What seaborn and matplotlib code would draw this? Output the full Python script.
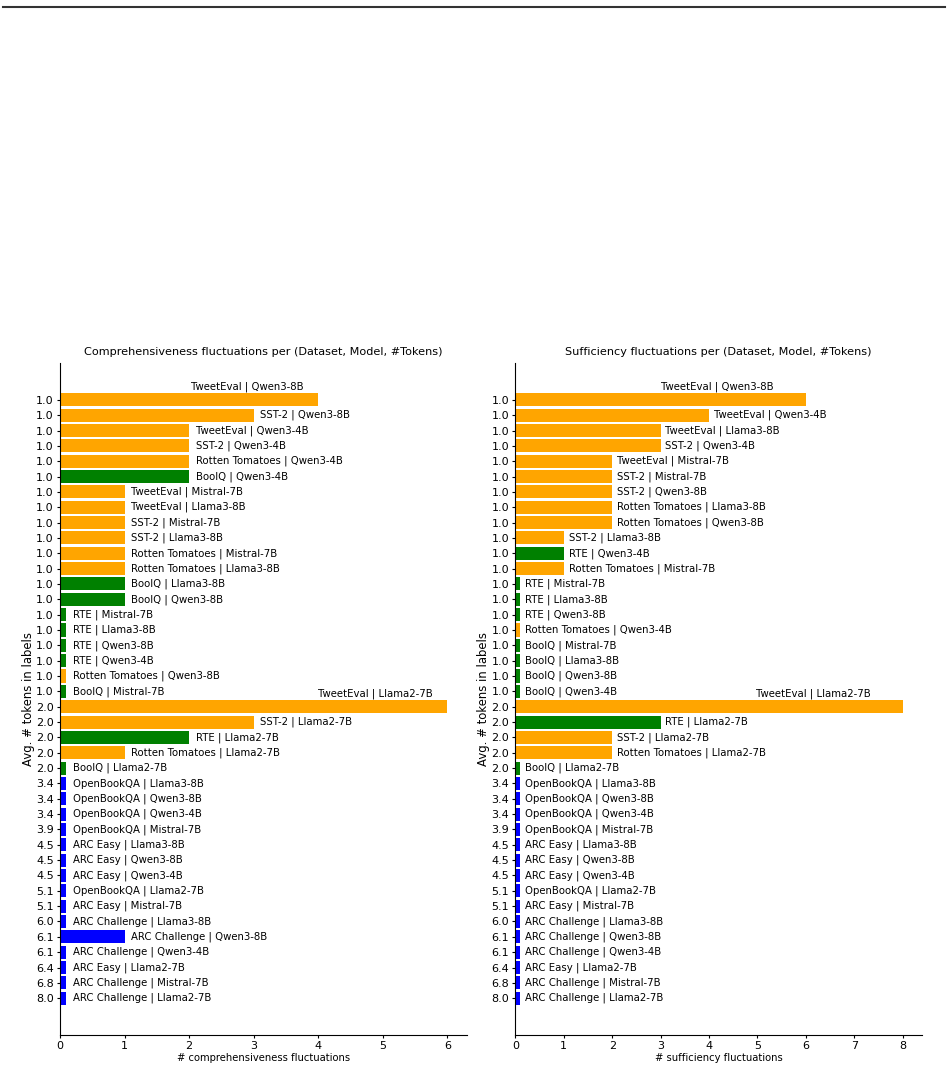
import numpy as np
import pandas as pd
import matplotlib.pyplot as plt
import seaborn as sns
from matplotlib.lines import Line2D

#%% data
comp_labels = [
    "TweetEval | Qwen3-8B", "SST-2 | Qwen3-8B", "TweetEval | Qwen3-4B", "SST-2 | Qwen3-4B",
    "Rotten Tomatoes | Qwen3-4B", "BoolQ | Qwen3-4B", "TweetEval | Mistral-7B", "TweetEval | Llama3-8B",
    "SST-2 | Mistral-7B", "SST-2 | Llama3-8B", "Rotten Tomatoes | Mistral-7B", "Rotten Tomatoes | Llama3-8B",
    "BoolQ | Llama3-8B", "BoolQ | Qwen3-8B", "RTE | Mistral-7B", "RTE | Llama3-8B",
    "RTE | Qwen3-8B", "RTE | Qwen3-4B", "Rotten Tomatoes | Qwen3-8B", "BoolQ | Mistral-7B",
    "TweetEval | Llama2-7B", "SST-2 | Llama2-7B", "RTE | Llama2-7B", "Rotten Tomatoes | Llama2-7B",
    "BoolQ | Llama2-7B",
]
comp_values = [4, 3, 2, 2, 2, 2, 1, 1, 1, 1, 1, 1, 1, 1, 0, 0, 0, 0, 0, 0,
               6, 3, 2, 1, 0]

suff_labels = [
    "TweetEval | Qwen3-8B", "TweetEval | Qwen3-4B", "TweetEval | Llama3-8B", "SST-2 | Qwen3-4B",
    "TweetEval | Mistral-7B", "SST-2 | Mistral-7B", "SST-2 | Qwen3-8B", "Rotten Tomatoes | Llama3-8B",
    "Rotten Tomatoes | Qwen3-8B", "SST-2 | Llama3-8B", "RTE | Qwen3-4B", "Rotten Tomatoes | Mistral-7B",
    "RTE | Mistral-7B", "RTE | Llama3-8B", "RTE | Qwen3-8B", "Rotten Tomatoes | Qwen3-4B",
    "BoolQ | Mistral-7B", "BoolQ | Llama3-8B", "BoolQ | Qwen3-8B", "BoolQ | Qwen3-4B",
    "TweetEval | Llama2-7B", "RTE | Llama2-7B", "SST-2 | Llama2-7B", "Rotten Tomatoes | Llama2-7B",
    "BoolQ | Llama2-7B",
]
suff_values = [6, 4, 3, 3, 2, 2, 2, 2, 2, 1, 1, 1, 0, 0, 0, 0, 0, 0, 0, 0,
               8, 3, 2, 2, 0]

# multiple-choice block, same order in both panels
mc_labels = [
    "OpenBookQA | Llama3-8B", "OpenBookQA | Qwen3-8B", "OpenBookQA | Qwen3-4B", "OpenBookQA | Mistral-7B",
    "ARC Easy | Llama3-8B", "ARC Easy | Qwen3-8B", "ARC Easy | Qwen3-4B", "OpenBookQA | Llama2-7B",
    "ARC Easy | Mistral-7B", "ARC Challenge | Llama3-8B", "ARC Challenge | Qwen3-8B", "ARC Challenge | Qwen3-4B",
    "ARC Easy | Llama2-7B", "ARC Challenge | Mistral-7B", "ARC Challenge | Llama2-7B",
]
mc_comp_values = [0, 0, 0, 0, 0, 0, 0, 0, 0, 0, 1, 0, 0, 0, 0]
mc_suff_values = [0] * 15

tokens = [1.0] * 20 + [2.0] * 5 + [3.4, 3.4, 3.4, 3.9, 4.5, 4.5, 4.5, 5.1, 5.1, 6.0, 6.1, 6.1, 6.4, 6.8, 8.0]

task_colors = {"sentiment": "orange", "nli_qa": "green", "mc": "blue"}


def task_of(label):
    ds = label.split(" | ")[0]
    if ds in ("TweetEval", "SST-2", "Rotten Tomatoes"):
        return "sentiment"
    if ds in ("BoolQ", "RTE"):
        return "nli_qa"
    return "mc"


def make_df(labels, values):
    df = pd.DataFrame({"label": labels, "count": values, "tokens": tokens})
    df["task"] = df["label"].map(task_of)
    # zero counts get a small stub so the row stays visible
    df["shown"] = df["count"].clip(lower=0.1)
    return df


comp = make_df(comp_labels + mc_labels, comp_values + mc_comp_values)
suff = make_df(suff_labels + mc_labels, suff_values + mc_suff_values)

#%% plot
plt.rcParams["font.size"] = 8
fig, axes = plt.subplots(1, 2, figsize=(9.48, 10.69), dpi=100)
fig.subplots_adjust(left=0.0633, right=0.9726, bottom=0.0318, top=0.6604, wspace=0.12)

panels = [
    (axes[0], comp, "Comprehensiveness fluctuations per (Dataset, Model, #Tokens)",
     "# comprehensiveness fluctuations", 0.23),
    (axes[1], suff, "Sufficiency fluctuations per (Dataset, Model, #Tokens)",
     "# sufficiency fluctuations", 0.66),
]

for ax, df, title, xlabel, back in panels:
    sns.barplot(data=df, y="label", x="shown", hue="task", palette=task_colors,
                order=list(df["label"]), dodge=False, width=0.85, legend=False,
                saturation=1, ax=ax)
    ax.set_yticks(range(len(df)))
    ax.set_yticklabels([f"{t:.1f}" for t in df["tokens"]])
    ax.set_ylim(len(df) + 1.4, -2.4)
    ax.set_xlim(0, df["count"].max() * 1.05)
    ax.tick_params(length=2.5, pad=2)
    ax.set_title(title, fontsize=8.1)
    ax.set_xlabel(xlabel, fontsize=7.2, labelpad=1)
    ax.set_ylabel("Avg. # tokens in labels", fontsize=8.4, labelpad=1)
    ax.spines["top"].set_visible(False)
    ax.spines["right"].set_visible(False)
    vmax = df["count"].max()
    for i, (lab, v, w) in enumerate(zip(df["label"], df["count"], df["shown"])):
        if v > 0.6 * vmax:
            ax.text(w - back, i - 0.85, lab, ha="right", va="center", fontsize=7.3)
        else:
            ax.text(w + 0.1, i, lab, ha="left", va="center", fontsize=7.3)

fig.add_artist(Line2D([0.003, 0.997], [0.9935, 0.9935], color="#333333", lw=1.5,
                      transform=fig.transFigure))

fig.savefig("out.png", dpi=100)
